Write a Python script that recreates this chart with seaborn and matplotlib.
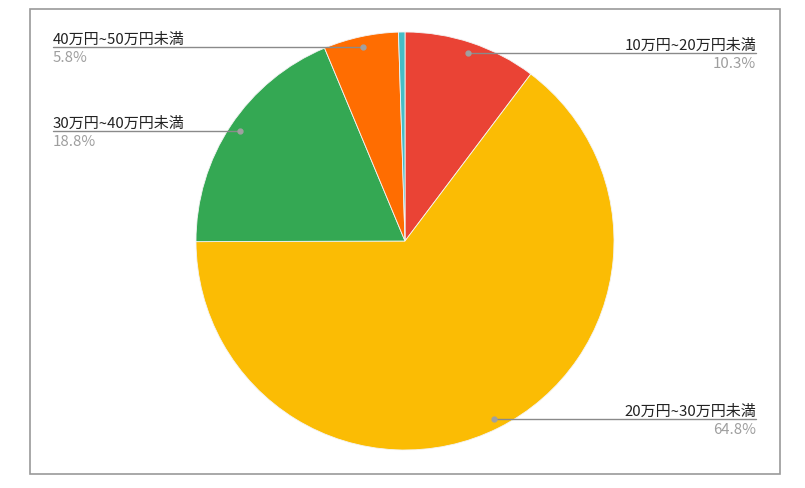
import numpy as np
import matplotlib
matplotlib.use("Agg")
import matplotlib.pyplot as plt
import seaborn as sns
from matplotlib.patches import Rectangle

# ---- data ----
categories = ["10万円~20万円未満", "20万円~30万円未満", "30万円~40万円未満",
              "40万円~50万円未満", "50万円以上"]
values = [10.3, 64.8, 18.8, 5.8, 0.5]
pct_labels = ["10.3%", "64.8%", "18.8%", "5.8%", None]
colors = ["#EA4335", "#FBBC04", "#34A853", "#FF6D01", "#46BDC6"]

sns.set_theme(style="white")
plt.rcParams['font.family'] = ['Noto Sans CJK JP', 'DejaVu Sans']

W, H = 805, 489
fig = plt.figure(figsize=(W / 100, H / 100), dpi=100)
ax = fig.add_axes([0, 0, 1, 1])

# chart border
ax.add_patch(Rectangle((29.5, H - 474.5), 750.5, 465, fill=False,
                       edgecolor="#9a9a9a", linewidth=1.2))

cx, cy, R = 405, H - 242, 209
wedges, _ = ax.pie(values, colors=colors, startangle=90, counterclock=False,
                   center=(cx, cy), radius=R, frame=True,
                   wedgeprops=dict(edgecolor="#f4f4f4", linewidth=0.6))
ax.set_xlim(0, W)
ax.set_ylim(0, H)
ax.set_aspect("equal")
ax.axis("off")

left_x, right_x = 53, 756
for w, lab, pct in zip(wedges, categories, pct_labels):
    if pct is None:
        continue
    mid = np.deg2rad((w.theta1 + w.theta2) / 2)
    dx, dy = cx + 0.95 * R * np.cos(mid), cy + 0.95 * R * np.sin(mid)
    if np.cos(mid) >= 0:
        ex, ha = right_x, "right"
    else:
        ex, ha = left_x, "left"
    ax.plot([dx, ex], [dy, dy], color="#8a8a8a", linewidth=1.0, zorder=5)
    ax.plot([dx], [dy], marker="o", markersize=3.5, color="#a0a0a0", zorder=6)
    ax.text(ex, dy + 1, lab, ha=ha, va="bottom", fontsize=10.8, color="#222222")
    ax.text(ex, dy - 3, pct, ha=ha, va="top", fontsize=10.8, color="#9e9e9e")

fig.savefig("out.png", dpi=100)
